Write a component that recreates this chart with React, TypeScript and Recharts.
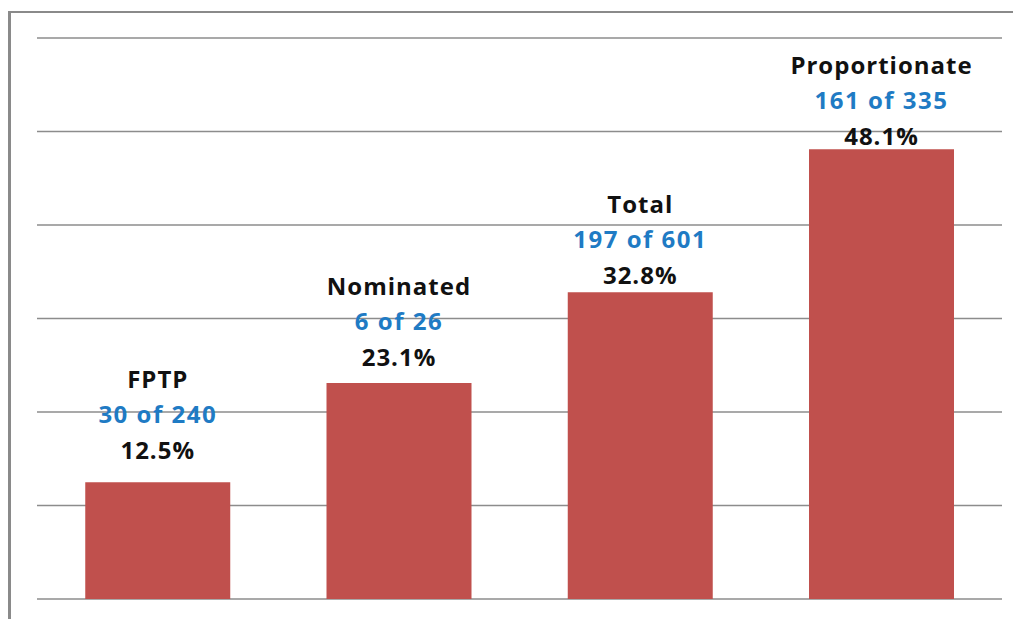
import { BarChart, Bar, CartesianGrid, XAxis, YAxis, LabelList } from "recharts";

const categories = ["FPTP", "Nominated", "Total", "Proportionate"];
const counts = ["30 of 240", "6 of 26", "197 of 601", "161 of 335"];
const shares = [12.5, 23.1, 32.8, 48.1];
const yTicks = [0, 10, 20, 30, 40, 50, 60];

const data = categories.map((name, i) => ({ name, count: counts[i], share: shares[i] }));

// how far each label stack sits above its bar (px), as in the original slide
const labelLift = [32, 26, 17, 13];

const FONT = "'Open Sans', 'DejaVu Sans', sans-serif";

function StackLabel(props: any) {
  const { x, y, width, index } = props;
  const cx = x + width / 2;
  const d = data[index];
  const base = y - labelLift[index] + 8.5;
  return (
    <g fontFamily={FONT} fontWeight="bold" fontSize={24} letterSpacing={1} textAnchor="middle">
      <text x={cx} y={base - 71} fill="#111">{d.name}</text>
      <text x={cx} y={base - 35.5} fill="#1F7BC4" letterSpacing={1.5}>{d.count}</text>
      <text x={cx} y={base} fill="#111">{d.share.toFixed(1)}%</text>
    </g>
  );
}

export default function App() {
  return (
    <div style={{ position: "fixed", left: 0, top: 0, width: 1013, height: 619, background: "#fff" }}>
      <div
        style={{
          position: "absolute",
          left: 8,
          top: 11,
          right: 0,
          bottom: 0,
          borderTop: "2px solid #8a8a8a",
          borderLeft: "3px solid #8a8a8a",
        }}
      />
      <div style={{ position: "absolute", left: 0, top: 0 }}>
        <BarChart
          width={1013}
          height={619}
          data={data}
          margin={{ top: 38, right: 11, bottom: 20, left: 37 }}
          barCategoryGap="20%"
        >
          <CartesianGrid vertical={false} stroke="#8c8c8c" strokeWidth={1.5} />
          <XAxis dataKey="name" hide />
          <YAxis domain={[0, 60]} ticks={yTicks} hide />
          <Bar dataKey="share" fill="#C0504D" isAnimationActive={false}>
            <LabelList dataKey="share" content={StackLabel} />
          </Bar>
        </BarChart>
      </div>
    </div>
  );
}
